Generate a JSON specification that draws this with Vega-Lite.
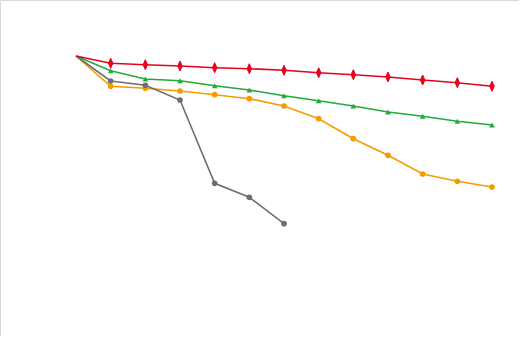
{
  "$schema": "https://vega.github.io/schema/vega-lite/v6.json",
  "autosize": {"type": "none"},
  "padding": 0,
  "width": 519,
  "height": 336,
  "background": "white",
  "config": {"view": {"stroke": "#d9d9d9", "strokeWidth": 1}},
  "data": {"values": [
    {"s": "A", "x": 0, "y": 56}, {"s": "A", "x": 1, "y": 86.3}, {"s": "A", "x": 2, "y": 88.3}, {"s": "A", "x": 3, "y": 91}, {"s": "A", "x": 4, "y": 94.7}, {"s": "A", "x": 5, "y": 98.7}, {"s": "A", "x": 6, "y": 106}, {"s": "A", "x": 7, "y": 118.7}, {"s": "A", "x": 8, "y": 138.7}, {"s": "A", "x": 9, "y": 155.3}, {"s": "A", "x": 10, "y": 174}, {"s": "A", "x": 11, "y": 181.3}, {"s": "A", "x": 12, "y": 187},
    {"s": "B", "x": 0, "y": 56}, {"s": "B", "x": 1, "y": 81}, {"s": "B", "x": 2, "y": 85.3}, {"s": "B", "x": 3, "y": 100}, {"s": "B", "x": 4, "y": 183.3}, {"s": "B", "x": 5, "y": 197.3}, {"s": "B", "x": 6, "y": 223.7},
    {"s": "C", "x": 0, "y": 56}, {"s": "C", "x": 1, "y": 70.7}, {"s": "C", "x": 2, "y": 79}, {"s": "C", "x": 3, "y": 80.7}, {"s": "C", "x": 4, "y": 85.7}, {"s": "C", "x": 5, "y": 90}, {"s": "C", "x": 6, "y": 95.7}, {"s": "C", "x": 7, "y": 100.7}, {"s": "C", "x": 8, "y": 106}, {"s": "C", "x": 9, "y": 112}, {"s": "C", "x": 10, "y": 116.3}, {"s": "C", "x": 11, "y": 121.3}, {"s": "C", "x": 12, "y": 125},
    {"s": "D", "x": 0, "y": 56}, {"s": "D", "x": 1, "y": 63.3}, {"s": "D", "x": 2, "y": 64.7}, {"s": "D", "x": 3, "y": 66}, {"s": "D", "x": 4, "y": 67.7}, {"s": "D", "x": 5, "y": 68.7}, {"s": "D", "x": 6, "y": 70.3}, {"s": "D", "x": 7, "y": 72.7}, {"s": "D", "x": 8, "y": 74.7}, {"s": "D", "x": 9, "y": 77}, {"s": "D", "x": 10, "y": 80}, {"s": "D", "x": 11, "y": 82.7}, {"s": "D", "x": 12, "y": 86.3}
  ]},
  "encoding": {
    "x": {"field": "x", "type": "quantitative", "scale": {"domain": [-2.192, 12.779], "nice": false, "zero": false}, "axis": null},
    "y": {"field": "y", "type": "quantitative", "scale": {"domain": [0, 336], "reverse": true, "nice": false, "zero": false}, "axis": null},
    "color": {"field": "s", "type": "nominal", "scale": {"domain": ["A", "B", "C", "D"], "range": ["#f59b00", "#6e6e6e", "#22aa3a", "#e8001c"]}, "legend": null}
  },
  "layer": [
    {"mark": {"type": "line", "strokeWidth": 1.6}, "encoding": {"order": {"field": "x"}, "detail": {"field": "s"}}},
    {"transform": [{"filter": "datum.x >= 1 && datum.s != 'D'"}],
     "mark": {"type": "point", "filled": true, "opacity": 1, "size": 32},
     "encoding": {
       "shape": {"field": "s", "type": "nominal", "scale": {"domain": ["A", "B", "C"], "range": ["circle", "circle", "triangle-up"]}, "legend": null}
     }},
    {"transform": [{"filter": "datum.x >= 1 && datum.s == 'D'"}],
     "mark": {"type": "point", "filled": true, "opacity": 1, "size": 100, "shape": "M0,-1L0.45,0L0,1L-0.45,0Z", "stroke": "#e8001c", "strokeWidth": 1}}
  ]
}
